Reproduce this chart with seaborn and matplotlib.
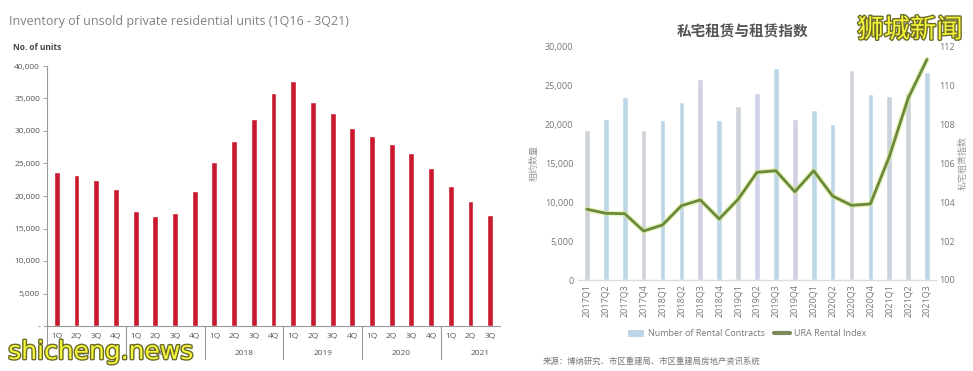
import matplotlib
matplotlib.use("Agg")
import matplotlib.pyplot as plt
import matplotlib.patheffects as pe
from matplotlib.patches import Patch
from matplotlib.lines import Line2D
import seaborn as sns

# left chart: unsold inventory, 1Q16 - 3Q21
inv_quarters = [f"{q}Q{y}" for y in range(16, 22) for q in range(1, 5)][:23]
inv_units = [23700, 23200, 22400, 21100, 17700, 16900, 17400, 20700,
             25300, 28500, 31800, 35800, 37700, 34400, 32700, 30400,
             29300, 28000, 26600, 24300, 21600, 19300, 17100]
inv_years = ["2016", "2017", "2018", "2019", "2020", "2021"]

# right chart: rental contracts and URA rental index, 2017Q1 - 2021Q3
rent_quarters = [f"{y}Q{q}" for y in range(2017, 2022) for q in range(1, 5)][:19]
rent_contracts = [19300, 20700, 23500, 19300, 20600, 22900, 25900, 20600,
                  22400, 24100, 27200, 20700, 21800, 20000, 27000, 23900,
                  23700, 24000, 26800]
rent_index = [103.64, 103.43, 103.41, 102.52, 102.83, 103.82, 104.12, 103.14,
              104.15, 105.54, 105.62, 104.54, 105.62, 104.32, 103.84, 103.91,
              106.34, 109.35, 111.35]

sns.set_theme(style="white")
plt.rcParams["font.family"] = ["Open Sans", "Noto Sans CJK SC", "DejaVu Sans"]

fig = plt.figure(figsize=(9.73, 3.71), dpi=100)

# ---- left chart ----
ax1 = fig.add_axes([47 / 973, 45 / 371, 453 / 973, 260 / 371])
sns.barplot(x=inv_quarters, y=inv_units, color="#c8192e", width=0.3,
            saturation=1, ax=ax1)
ax1.set_xlim(-0.5, 22.5)
ax1.set_ylim(0, 40000)
ax1.set_yticks(range(0, 40001, 5000))
ax1.set_yticklabels(["-"] + [f"{v:,}" for v in range(5000, 40001, 5000)],
                    fontsize=6, color="#555555")
ax1.set_xticks(range(len(inv_quarters)))
ax1.set_xticklabels([q[:2] for q in inv_quarters], fontsize=6, color="#555555")
ax1.tick_params(axis="y", length=3, width=0.6, color="#999999", pad=2, left=True)
ax1.tick_params(axis="x", length=0, pad=5)
for s in ["top", "right"]:
    ax1.spines[s].set_visible(False)
for s in ["left", "bottom"]:
    ax1.spines[s].set_color("#999999")
    ax1.spines[s].set_linewidth(0.8)
ax1.set_xlabel("")
ax1.set_ylabel("")
xt = ax1.get_xaxis_transform()
for g in range(6):
    x0 = g * 4 - 0.5
    ax1.plot([x0, x0], [0, -0.125], transform=xt, color="#999999", lw=0.8,
             clip_on=False)
    ax1.text(g * 4 + 1.5, -0.105, inv_years[g], transform=xt, ha="center",
             va="center", fontsize=6, color="#555555")
fig.text(9 / 973, 1 - 22 / 371, "Inventory of unsold private residential units (1Q16 - 3Q21)",
         fontsize=9, color="#808080", va="center")
fig.text(13 / 973, 1 - 47 / 371, "No. of units", fontsize=6, color="#444444",
         fontweight="bold", va="center")

# ---- right chart ----
ax2 = fig.add_axes([577.5 / 973, 91 / 371, 359 / 973, 233.3 / 371])
bar_cols = ["#cfd3d8", "#bcd6e6", "#bcd6e6", "#cfd3d8", "#bcd6e6", "#bcd6e6",
            "#d3d0e6", "#bcd6e6", "#cfd3d8", "#d0d3e8", "#bcd6e6", "#d3d0e6",
            "#bcd6e6", "#bcd6e6", "#cfd3d8", "#bcd6e6", "#c9d2df", "#cfd3d8",
            "#bcd6e6"]
sns.barplot(x=rent_quarters, y=rent_contracts, hue=rent_quarters,
            palette=bar_cols, width=0.3, saturation=1, legend=False, ax=ax2)
ax2.set_xlim(-0.5, 18.5)
ax2.set_ylim(0, 30000)
ax2.set_yticks(range(0, 30001, 5000))
ax2.set_yticklabels([f"{v:,}" for v in range(0, 30001, 5000)], fontsize=6.5,
                    color="#777777")
ax2.set_xticks(range(len(rent_quarters)))
ax2.set_xticklabels(rent_quarters, rotation=90, fontsize=6.5, color="#777777")
ax2.tick_params(axis="both", length=0, pad=3)
for s in ["top", "right", "left"]:
    ax2.spines[s].set_visible(False)
ax2.spines["bottom"].set_color("#d8dde3")
ax2.spines["bottom"].set_linewidth(1)
ax2.set_ylabel("租约数量", fontsize=6.5, color="#999999", labelpad=4)
ax2.set_xlabel("")

ax3 = ax2.twinx()
sns.lineplot(x=list(range(len(rent_index))), y=rent_index, color="#d6e88a",
             lw=4, alpha=0.5, ax=ax3)
sns.lineplot(x=list(range(len(rent_index))), y=rent_index, color="#6a8a3a",
             lw=2, ax=ax3)
ax3.set_ylim(100, 112)
ax3.set_yticks(range(100, 113, 2))
ax3.set_yticklabels([str(v) for v in range(100, 113, 2)], fontsize=6.5,
                    color="#777777")
ax3.tick_params(axis="y", length=0, pad=2)
for s in ax3.spines.values():
    s.set_visible(False)
ax3.set_ylabel("私宅租赁指数", fontsize=6.5, color="#999999", labelpad=3)
ax3.set_xlim(-0.5, 18.5)

fig.text(743 / 973, 1 - 32 / 371, "私宅租赁与租赁指数", fontsize=10.5,
         fontweight="bold", color="#555555", ha="center", va="center")

handles = [Patch(facecolor="#bcd6e6", edgecolor="none"),
           Line2D([0], [0], color="#7a8a5a", lw=3)]
fig.legend(handles, ["Number of Rental Contracts", "URA Rental Index"],
           loc="center", bbox_to_anchor=(747 / 973, 1 - 334 / 371), ncol=2,
           frameon=False, fontsize=6.5, labelcolor="#777777", handlelength=1.8,
           columnspacing=1.0, handletextpad=0.4)
fig.text(543 / 973, 1 - 361 / 371, "来源：博纳研究、市区重建局、市区重建局房地产资讯系统",
         fontsize=6, color="#777777", va="center")

# watermarks
wm = [pe.withStroke(linewidth=2, foreground="#6b6b2a")]
fig.text(910 / 973, 1 - 31 / 371, "狮城新闻", fontsize=19, color="#f5f53a",
         ha="center", va="center", path_effects=wm, zorder=10)
fig.text(101 / 973, 1 - 352 / 371, "shicheng.news", fontsize=18, color="#f5f53a",
         ha="center", va="center", path_effects=wm, zorder=10,
         family=["DejaVu Sans"])

fig.savefig("out.png", dpi=100, facecolor="white")
